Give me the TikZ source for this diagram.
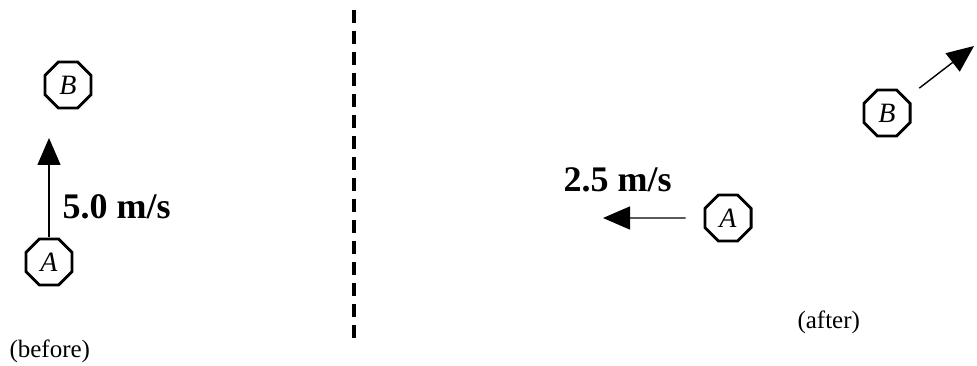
\documentclass[tikz,border=0pt]{standalone}
\usepackage{fontspec}
\setmainfont{Liberation Serif}
\usetikzlibrary{shapes.geometric,arrows.meta}

\begin{document}
\begin{tikzpicture}[x=1pt, y=-1pt,
	ball/.style ={regular polygon, regular polygon sides=8, draw, line width=2.8pt, minimum size=50pt, inner sep=0pt, font=\fontsize{28}{28}\selectfont\itshape},
	vel/.style ={line width=1.4pt, -{Triangle[length=27pt,width=23pt]}},
	speed/.style ={anchor=west, font=\fontsize{36}{36}\selectfont\bfseries},
	tag/.style ={anchor=west, font=\fontsize{25}{25}\selectfont}]
		\useasboundingbox (0,0) rectangle (977,366);
		\def\xs{354};
		% before
		\node[ball] (pb) at (68,85) {B};
		\node[ball] (pa) at (49,262) {A};
		\coordinate (t1) at (49,138);
		\draw[vel] (pa) -- (t1);
		\node[speed] (v1) at (59,207) {5.0 m/s};
		\node[tag] (l1) at (6,351) {(before)};
		% divider
		\coordinate (d1) at (\xs,10);
		\coordinate (d2) at (\xs,344);
		\draw[line width=3.5pt, dash pattern=on 13pt off 8pt] (d1) -- (d2);
		% after
		\node[ball] (qa) at (728,218) {A};
		\node[ball] (qb) at (887,113) {B};
		\coordinate (t2) at (603,218);
		\coordinate (t3) at (974,46);
		\draw[vel, shorten <=18pt] (qa) -- (t2);
		\draw[vel, shorten <=16pt] (qb) -- (t3);
		\node[speed] (v2) at (560,180) {2.5 m/s};
		\node[tag] (l2) at (794,322) {(after)};
	\end{tikzpicture}
\end{document}
